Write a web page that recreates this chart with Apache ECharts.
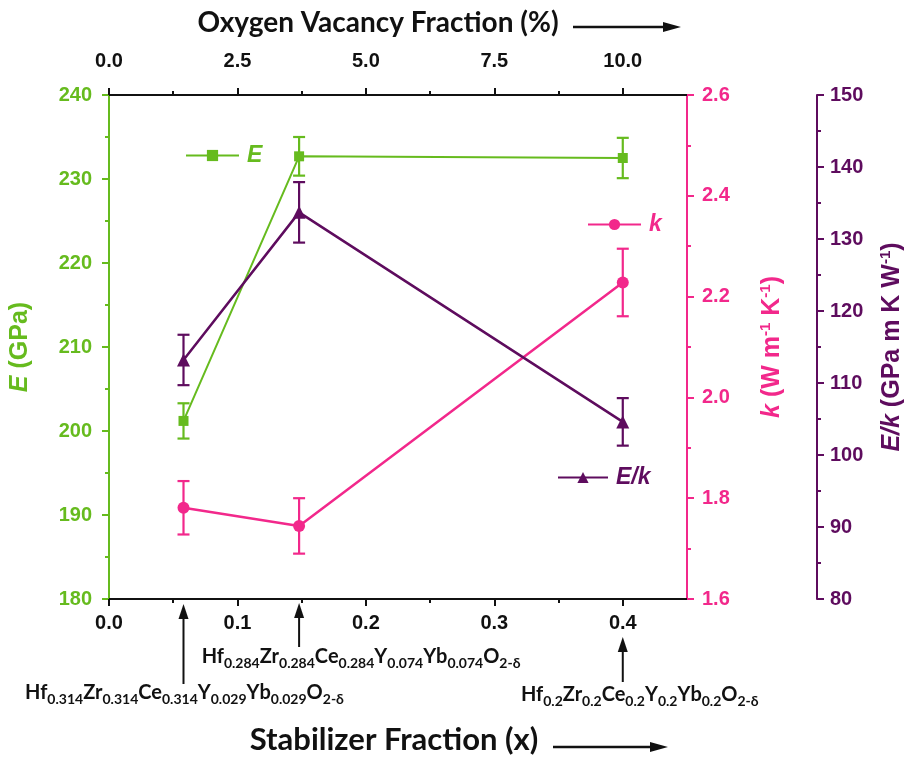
<!DOCTYPE html>
<html><head><meta charset="utf-8">
<script src="https://cdn.jsdelivr.net/npm/echarts@6/dist/echarts.min.js"></script>
<style>html,body{margin:0;padding:0;background:#fff}#c{width:917px;height:758px}</style>
</head><body><div id="c"></div>
<script>
// ---- data ----
const stabilizerX = [0.058, 0.148, 0.4];
const E_vals = [201.2, 232.7, 232.5];
const E_err = [2.1, 2.3, 2.4];
const k_vals = [1.781, 1.745, 2.228];
const k_err = [0.053, 0.055, 0.067];
const Ek_vals = [113.2, 133.7, 104.6];
const Ek_err = [3.5, 4.2, 3.3];
const bottomMajorTicks = [0, 0.1, 0.2, 0.3, 0.4];
const bottomMinorTicks = [0.05, 0.15, 0.25, 0.35];
const topMajorTicks = [0, 2.5, 5, 7.5, 10];
const topMinorTicks = [1.25, 3.75, 6.25, 8.75];
const compositions = [
  'Hf{s|0.314}Zr{s|0.314}Ce{s|0.314}Y{s|0.029}Yb{s|0.029}O{s|2-δ}',
  'Hf{s|0.284}Zr{s|0.284}Ce{s|0.284}Y{s|0.074}Yb{s|0.074}O{s|2-δ}',
  'Hf{s|0.2}Zr{s|0.2}Ce{s|0.2}Y{s|0.2}Yb{s|0.2}O{s|2-δ}'
];
const topTitle = 'Oxygen Vacancy Fraction (%)';
const bottomTitle = 'Stabilizer Fraction (x)';

// ---- style ----
const G = '#66bb1e', P = '#f2288b', V = '#5e0c5e', K = '#111';
const tickFont = 'Liberation Sans, Arial, sans-serif';
const calFont = 'Lato, Open Sans, sans-serif';

const chart = echarts.init(document.getElementById('c'), null, {renderer: 'canvas'});

function errSeries(name, vals, errs, yIdx, color) {
  return {
    name: name, type: 'custom', xAxisIndex: 0, yAxisIndex: yIdx, z: 4,
    encode: {x: 0, y: [1, 2]},
    data: stabilizerX.map((x, i) => [x, vals[i] - errs[i], vals[i] + errs[i]]),
    renderItem: function (params, api) {
      const x = api.value(0);
      const a = api.coord([x, api.value(2)]);
      const b = api.coord([x, api.value(1)]);
      const w = 6;
      const st = {stroke: color, lineWidth: 2.2};
      return {type: 'group', children: [
        {type: 'line', shape: {x1: a[0], y1: a[1], x2: b[0], y2: b[1]}, style: st},
        {type: 'line', shape: {x1: a[0] - w, y1: a[1], x2: a[0] + w, y2: a[1]}, style: st},
        {type: 'line', shape: {x1: b[0] - w, y1: b[1], x2: b[0] + w, y2: b[1]}, style: st}
      ]};
    }
  };
}

function yAxisCfg(opt) {
  return Object.assign({
    type: 'value', splitLine: {show: false},
    axisLine: {show: true, onZero: false, lineStyle: {color: opt.color, width: 2}},
    axisTick: {show: true, length: 7, lineStyle: {color: opt.color, width: 2}},
    minorTick: {show: true, splitNumber: 2, length: 4, lineStyle: {color: opt.color, width: 2}},
    axisLabel: {color: opt.color, fontSize: 20, fontWeight: 'bold', fontFamily: tickFont, margin: opt.margin,
      formatter: opt.fmt},
    nameLocation: 'middle', nameRotate: 90,
    nameTextStyle: {color: opt.color, fontSize: 25, fontWeight: 'bold', fontFamily: tickFont, lineHeight: 29,
      rich: {i: {fontStyle: 'italic', fontSize: 25, fontWeight: 'bold', fontFamily: tickFont, color: opt.color, lineHeight: 29},
             sup: {fontSize: 15, fontWeight: 'bold', fontFamily: tickFont, color: opt.color, verticalAlign: 'top', lineHeight: 16}}}
  }, opt.extra);
}

const option = {
  backgroundColor: '#fff',
  animation: false,
  grid: {left: 109, right: 230, top: 95, bottom: 159, containLabel: false, outerBoundsMode: 'none'},
  xAxis: [
    {type: 'value', position: 'bottom', min: 0, max: 0.45,
      axisLine: {show: true, onZero: false, lineStyle: {color: K, width: 2}},
      axisTick: {show: true, length: 7, customValues: bottomMajorTicks, lineStyle: {color: K, width: 2}},
      axisLabel: {customValues: bottomMajorTicks, color: K, fontSize: 20, fontWeight: 'bold', fontFamily: tickFont, margin: 14,
        formatter: v => v.toFixed(1)},
      splitLine: {show: false}},
    {type: 'value', position: 'top', min: 0, max: 11.25,
      axisLine: {show: true, onZero: false, lineStyle: {color: K, width: 2}},
      axisTick: {show: true, length: 7, customValues: topMajorTicks, lineStyle: {color: K, width: 2}},
      axisLabel: {customValues: topMajorTicks, color: K, fontSize: 20, fontWeight: 'bold', fontFamily: tickFont, margin: 24,
        formatter: v => v.toFixed(1)},
      splitLine: {show: false}},
    {type: 'value', position: 'bottom', min: 0, max: 0.45,
      axisLine: {show: false, onZero: false}, axisLabel: {show: false}, splitLine: {show: false},
      axisTick: {show: true, length: 4, customValues: bottomMinorTicks, lineStyle: {color: K, width: 2}}},
    {type: 'value', position: 'top', min: 0, max: 11.25,
      axisLine: {show: false, onZero: false}, axisLabel: {show: false}, splitLine: {show: false},
      axisTick: {show: true, length: 4, customValues: topMinorTicks, lineStyle: {color: K, width: 2}}}
  ],
  yAxis: [
    yAxisCfg({color: G, margin: 17, fmt: v => String(v),
      extra: {position: 'left', min: 180, max: 240, interval: 10, name: '{i|E} (GPa)', nameGap: 74}}),
    yAxisCfg({color: P, margin: 15, fmt: v => v.toFixed(1),
      extra: {position: 'right', min: 1.6, max: 2.6, interval: 0.2, name: '{i|k} (W m{sup|-1} K{sup|-1})', nameGap: 71}}),
    yAxisCfg({color: V, margin: 13, fmt: v => String(v),
      extra: {position: 'right', offset: 130, min: 80, max: 150, interval: 10, name: '{i|E/k} (GPa m K W{sup|-1})', nameGap: 61}})
  ],
  legend: [
    {data: ['E'], left: 185, top: 144, padding: 0, itemWidth: 53, itemHeight: 14, selectedMode: false,
      textStyle: {color: G, fontSize: 23, fontStyle: 'italic', fontWeight: 'bold', fontFamily: tickFont, padding: [0, 0, 0, 3]}},
    {data: ['k'], left: 587, top: 213, padding: 0, itemWidth: 53, itemHeight: 14, selectedMode: false,
      textStyle: {color: P, fontSize: 23, fontStyle: 'italic', fontWeight: 'bold', fontFamily: tickFont, padding: [0, 0, 0, 3]}},
    {data: ['E/k'], left: 557, top: 466, padding: 0, itemWidth: 50, itemHeight: 14, selectedMode: false,
      textStyle: {color: V, fontSize: 23, fontStyle: 'italic', fontWeight: 'bold', fontFamily: tickFont, padding: [0, 0, 0, 3]}}
  ],
  series: [
    {name: 'E', type: 'line', xAxisIndex: 0, yAxisIndex: 0, z: 5,
      data: stabilizerX.map((x, i) => [x, E_vals[i]]),
      symbol: 'rect', symbolSize: 10, lineStyle: {color: G, width: 2}, itemStyle: {color: G}},
    {name: 'k', type: 'line', xAxisIndex: 0, yAxisIndex: 1, z: 5,
      data: stabilizerX.map((x, i) => [x, k_vals[i]]),
      symbol: 'circle', symbolSize: 12, lineStyle: {color: P, width: 2.5}, itemStyle: {color: P}},
    {name: 'E/k', type: 'line', xAxisIndex: 0, yAxisIndex: 2, z: 5,
      data: stabilizerX.map((x, i) => [x, Ek_vals[i]]),
      symbol: 'triangle', symbolSize: 13, lineStyle: {color: V, width: 2.5}, itemStyle: {color: V}},
    errSeries('E err', E_vals, E_err, 0, G),
    errSeries('k err', k_vals, k_err, 1, P),
    errSeries('Ek err', Ek_vals, Ek_err, 2, V)
  ]
};
chart.setOption(option);

// ---- annotations (arrows + composition labels + axis titles) ----
const arrowSpecs = [
  {tip: 604, base: 684, labelDx: 1, labelY: 693},
  {tip: 603, base: 647, labelDx: 62, labelY: 657},
  {tip: 637, base: 682, labelDx: 17, labelY: 695}
];
const graphics = [];
function vArrow(x, tip, base) {
  graphics.push({type: 'line', shape: {x1: x, y1: base, x2: x, y2: tip + 10}, style: {stroke: K, lineWidth: 2}});
  graphics.push({type: 'polygon', shape: {points: [[x - 5, tip + 15], [x + 5, tip + 15], [x, tip]]}, style: {fill: K}});
}
function hArrow(x1, x2, y) {
  graphics.push({type: 'line', shape: {x1: x1, y1: y, x2: x2 - 10, y2: y}, style: {stroke: K, lineWidth: 2.5}});
  graphics.push({type: 'polygon', shape: {points: [[x2 - 18, y - 5], [x2 - 18, y + 5], [x2, y]]}, style: {fill: K}});
}
stabilizerX.forEach((x, i) => {
  const px = chart.convertToPixel({xAxisIndex: 0}, x);
  const s = arrowSpecs[i];
  vArrow(px, s.tip, s.base);
  graphics.push({type: 'text', style: {
    text: compositions[i], x: px + s.labelDx, y: s.labelY, align: 'center', verticalAlign: 'middle',
    fill: K, fontSize: 20, fontWeight: 'bold', fontFamily: calFont, lineHeight: 27,
    rich: {s: {fontSize: 14, fontWeight: 'bold', fontFamily: calFont, fill: K, verticalAlign: 'bottom', lineHeight: 14}}
  }});
});
graphics.push({type: 'text', style: {text: topTitle, x: 378, y: 23, align: 'center', verticalAlign: 'middle',
  fill: K, fontSize: 28, fontWeight: 'bold', fontFamily: calFont}});
hArrow(573, 681, 27);
graphics.push({type: 'text', style: {text: bottomTitle, x: 394, y: 740, align: 'center', verticalAlign: 'middle',
  fill: K, fontSize: 31, fontWeight: 'bold', fontFamily: calFont}});
hArrow(553, 668, 747);
chart.setOption({graphic: graphics});
</script>
</body></html>
